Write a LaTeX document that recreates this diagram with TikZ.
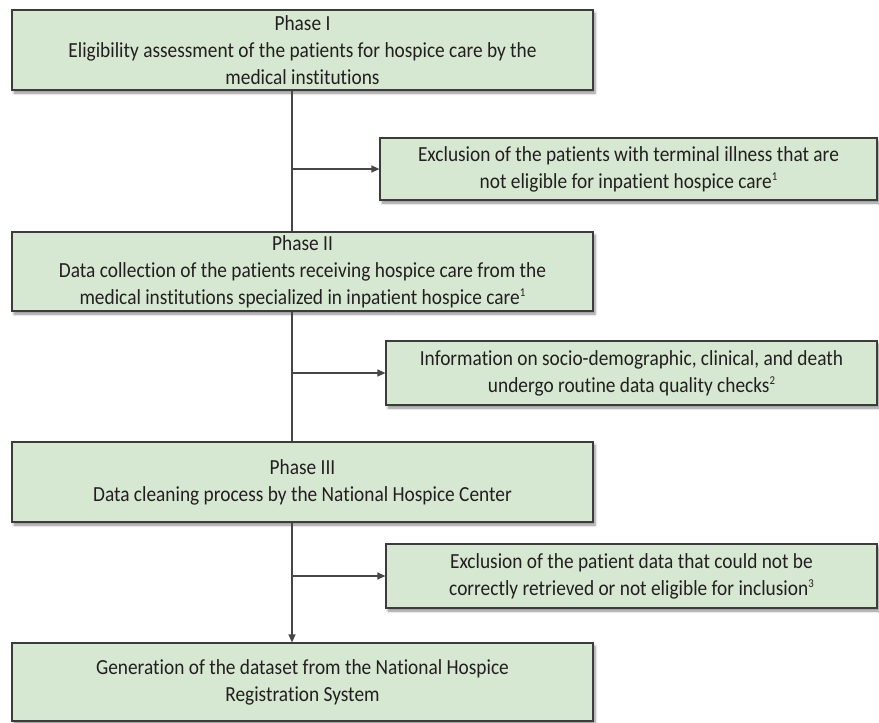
\documentclass[tikz,border=0pt]{standalone}
\usepackage{fontspec}
\setmainfont{Carlito}[FakeStretch=0.9, Ligatures={NoCommon}]
\usetikzlibrary{arrows.meta,shadows.blur}
\definecolor{boxfill}{RGB}{215,232,210}
\definecolor{boxline}{RGB}{60,60,60}
\definecolor{txt}{RGB}{35,31,32}
\definecolor{conn}{RGB}{70,70,70}
\tikzset{
  stepbox/.style={draw=boxline, line width=1.2pt, fill=boxfill, inner sep=0pt,
    align=center, text=txt, font=\fontsize{21.5}{27}\selectfont,
    blur shadow={shadow xshift=2pt, shadow yshift=-3pt, shadow blur steps=6, shadow blur radius=2.5pt, shadow opacity=45}},
  link/.style={draw=conn, line width=1.2pt},
  arrowlink/.style={link, -{Triangle[length=8pt,width=7pt]}}
}
\newcommand{\sups}[1]{\raisebox{0.75ex}{\fontsize{12}{12}\selectfont #1}}
\begin{document}
\begin{tikzpicture}[x=1pt,y=-1pt]
\useasboundingbox (0,0) rectangle (879,723);
\node[stepbox, minimum width=581pt, minimum height=80pt] (p1) at (302.5,50)
  {Phase I\\Eligibility assessment of the patients for hospice care by the\\medical institutions};
\node[stepbox, minimum width=497pt, minimum height=62pt] (e1) at (628.5,169)
  {Exclusion of the patients with terminal illness that are\\not eligible for inpatient hospice care\sups{1}};
\node[stepbox, minimum width=581pt, minimum height=79pt] (p2) at (302.5,271.5)
  {Phase II\\Data collection of the patients receiving hospice care from the\\medical institutions specialized in inpatient hospice care\sups{1}};
\node[stepbox, minimum width=491pt, minimum height=64pt] (e2) at (631.5,373)
  {Information on socio-demographic, clinical, and death\\undergo routine data quality checks\sups{2}};
\node[stepbox, minimum width=581pt, minimum height=80pt] (p3) at (302.5,482)
  {Phase III\\Data cleaning process by the National Hospice Center};
\node[stepbox, minimum width=491pt, minimum height=64pt] (e3) at (631.5,576)
  {Exclusion of the patient data that could not be\\correctly retrieved or not eligible for inclusion\sups{3}};
\node[stepbox, minimum width=581pt, minimum height=78pt] (p4) at (302.5,682)
  {Generation of the dataset from the National Hospice\\Registration System};
\coordinate (v) at (292,0);
\draw[link] (p1.south -| v) -- (p2.north -| v);
\draw[link] (p2.south -| v) -- (p3.north -| v);
\draw[arrowlink] (p3.south -| v) -- (p4.north -| v);
\draw[arrowlink] (e1.west -| v) -- (e1.west);
\draw[arrowlink] (e2.west -| v) -- (e2.west);
\draw[arrowlink] (e3.west -| v) -- (e3.west);
\end{tikzpicture}
\end{document}
